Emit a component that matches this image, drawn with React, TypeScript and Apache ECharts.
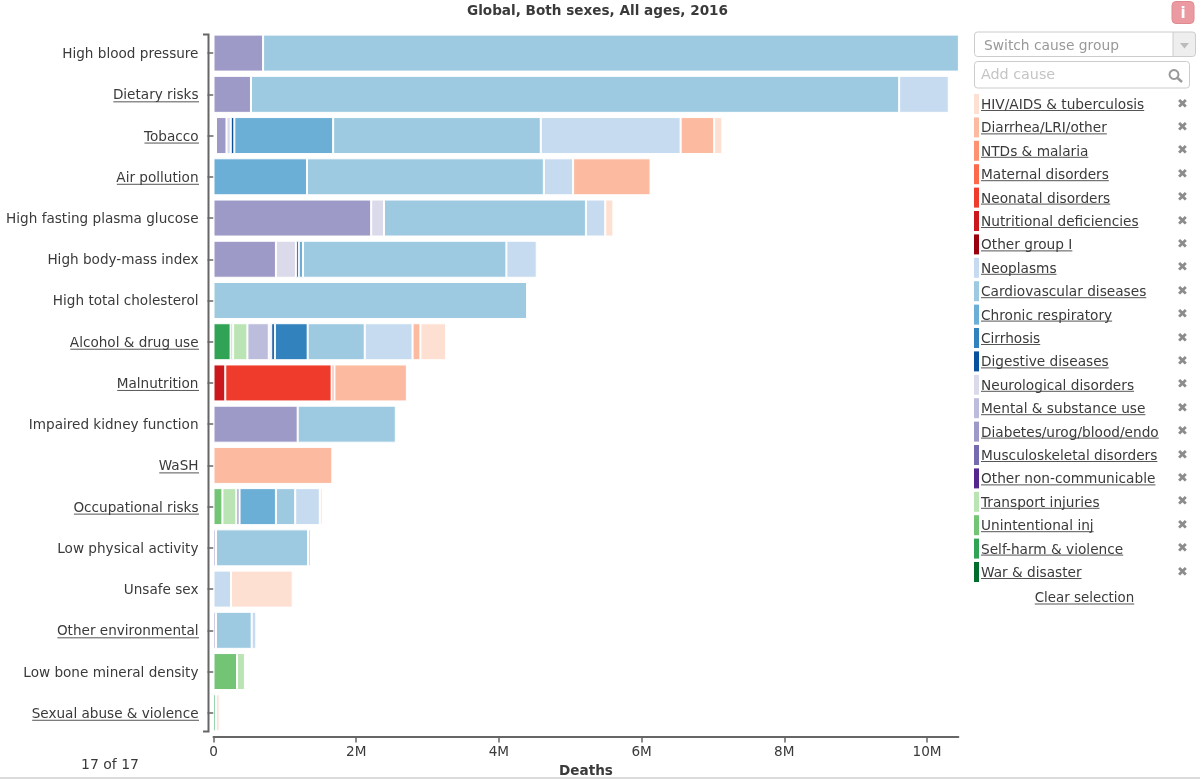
import React, { useEffect, useRef } from "react";
import * as echarts from "echarts";

const categories = [
  "High blood pressure", "Dietary risks", "Tobacco", "Air pollution", "High fasting plasma glucose",
  "High body-mass index", "High total cholesterol", "Alcohol & drug use", "Malnutrition",
  "Impaired kidney function", "WaSH", "Occupational risks", "Low physical activity", "Unsafe sex",
  "Other environmental", "Low bone mineral density", "Sexual abuse & violence",
];
const underlinedCategories = [
  "Dietary risks", "Tobacco", "Air pollution", "Alcohol & drug use", "Malnutrition", "WaSH",
  "Occupational risks", "Other environmental", "Sexual abuse & violence",
];
const _ = null;
// Values in millions of deaths; one entry per category, in category order.
const selfHarm =     [_, _, _, _, _, _, _, 0.24, _, _, _, _, _, _, _, _, 0.035];
const unintentional =[_, _, _, _, _, _, _, 0.035, _, _, _, 0.125, _, _, _, 0.33, _];
const transport =    [_, _, _, _, _, _, _, 0.2, _, _, _, 0.195, _, _, _, 0.11, _];
const diabetes =     [0.695, 0.525, 0.147, _, 2.21, 0.875, _, _, _, 1.18, _, 0.045, 0.035, _, 0.035, _, _];
const mental =       [_, _, _, _, _, _, _, 0.3, _, _, _, _, _, _, _, _, _];
const neurological = [_, _, 0.06, _, 0.18, 0.28, _, 0.035, _, _, _, _, _, _, _, _, _];
const digestive =    [_, _, 0.05, _, _, 0.04, _, 0.05, _, _, _, _, _, _, _, _, _];
const cirrhosis =    [_, _, _, _, _, _, _, 0.46, _, _, _, _, _, _, _, _, _];
const chronicResp =  [_, _, 1.385, 1.31, _, 0.06, _, _, _, _, _, 0.51, _, _, _, _, _];
const cardiovascular=[9.8, 9.085, 2.91, 3.32, 2.83, 2.85, 4.395, 0.8, _, 1.375, _, 0.27, 1.29, _, 0.5, _, _];
const neoplasms =    [_, 0.695, 1.96, 0.41, 0.27, 0.425, _, 0.67, _, _, _, 0.345, 0.04, 0.245, 0.065, _, _];
const nutritional =  [_, _, _, _, _, _, _, _, 0.165, _, _, _, _, _, _, _, _];
const neonatal =     [_, _, _, _, _, _, _, _, 1.49, _, _, _, _, _, _, _, _];
const ntdMalaria =   [_, _, _, _, _, _, _, _, 0.04, _, _, _, _, _, _, _, _];
const diarrhea =     [_, _, 0.47, 1.085, _, _, _, 0.11, 1.015, _, 1.665, _, _, _, _, _, _];
const hivTb =        [_, _, 0.115, _, 0.115, _, _, 0.36, _, _, _, 0.04, _, 0.865, _, _, 0.05];
const empty =        categories.map(() => null);
const tobaccoLead =  [_, _, 0.035, _, _, _, _, _, _, _, _, _, _, _, _, _, _];

const legendOrder = [
  "HIV/AIDS & tuberculosis", "Diarrhea/LRI/other", "NTDs & malaria", "Maternal disorders",
  "Neonatal disorders", "Nutritional deficiencies", "Other group I", "Neoplasms",
  "Cardiovascular diseases", "Chronic respiratory", "Cirrhosis", "Digestive diseases",
  "Neurological disorders", "Mental & substance use", "Diabetes/urog/blood/endo",
  "Musculoskeletal disorders", "Other non-communicable", "Transport injuries", "Unintentional inj",
  "Self-harm & violence", "War & disaster",
];
const causeColors: Record<string, string> = {
  "HIV/AIDS & tuberculosis": "#fee0d2", "Diarrhea/LRI/other": "#fcbba1", "NTDs & malaria": "#fc9272",
  "Maternal disorders": "#fb6a4a", "Neonatal disorders": "#ef3b2c", "Nutritional deficiencies": "#cb181d",
  "Other group I": "#99000d", "Neoplasms": "#c6dbef", "Cardiovascular diseases": "#9ecae1",
  "Chronic respiratory": "#6baed6", "Cirrhosis": "#3182bd", "Digestive diseases": "#08519c",
  "Neurological disorders": "#dadaeb", "Mental & substance use": "#bcbddc",
  "Diabetes/urog/blood/endo": "#9e9ac8", "Musculoskeletal disorders": "#756bb1",
  "Other non-communicable": "#54278f", "Transport injuries": "#bae4b3", "Unintentional inj": "#74c476",
  "Self-harm & violence": "#31a354", "War & disaster": "#006d2c",
};
// Left-to-right stacking order inside each bar.
const stackOrder: [string, (number | null)[]][] = [
  ["War & disaster", empty],
  ["Self-harm & violence", selfHarm],
  ["Unintentional inj", unintentional],
  ["Transport injuries", transport],
  ["Other non-communicable", empty],
  ["Musculoskeletal disorders", empty],
  ["Diabetes/urog/blood/endo", diabetes],
  ["Mental & substance use", mental],
  ["Neurological disorders", neurological],
  ["Digestive diseases", digestive],
  ["Cirrhosis", cirrhosis],
  ["Chronic respiratory", chronicResp],
  ["Cardiovascular diseases", cardiovascular],
  ["Neoplasms", neoplasms],
  ["Other group I", empty],
  ["Nutritional deficiencies", nutritional],
  ["Neonatal disorders", neonatal],
  ["Maternal disorders", empty],
  ["NTDs & malaria", ntdMalaria],
  ["Diarrhea/LRI/other", diarrhea],
  ["HIV/AIDS & tuberculosis", hivTb],
];
const xMax = 10.44;
const xInterval = 2;
const FONT = "'DejaVu Sans', Verdana, sans-serif";
const TEXT = "#3a3a3a";
const AXIS = "#666666";

function textWidth(text: string, font: string) {
  const ctx = document.createElement("canvas").getContext("2d")!;
  ctx.font = font;
  return ctx.measureText(text).width;
}
const line = (x1: number, y1: number, x2: number, y2: number, stroke: string, lineWidth = 1) => ({
  type: "line", silent: true, shape: { x1, y1, x2, y2 }, style: { stroke, lineWidth },
});
const label = (text: string, x: number, y: number, fill: string, font: string, align = "left") => ({
  type: "text", silent: true, x, y,
  style: { text, fill, font, textAlign: align, textVerticalAlign: "middle" },
});

function App() {
  const ref = useRef<HTMLDivElement>(null);
  useEffect(() => {
    const chart = echarts.init(ref.current!, undefined, { renderer: "svg" });
    const labelFont = `13.6px ${FONT}`;
    const legendFont = `13.7px ${FONT}`;
    const axisCenter = (i: number) => 53.1 + i * 41.23;
    const clearWidth = textWidth("Clear selection", `13.4px ${FONT}`);
    const graphics: any[] = [
      { type: "polyline", silent: true, shape: { points: [[203, 34.5], [208.5, 34.5], [208.5, 731.5], [203, 731.5]] }, style: { stroke: AXIS, lineWidth: 2, fill: "none" } },
      ...underlinedCategories.map((c) => {
        const y = axisCenter(categories.indexOf(c)) + 7.5;
        return line(199 - textWidth(c, labelFont), y, 199, y, "#555555");
      }),
      { type: "rect", silent: true, shape: { x: 1172, y: 1.5, width: 22, height: 22, r: 4 }, style: { fill: "#ea9aa0", stroke: "#e08a90", lineWidth: 1 } },
      label("i", 1183, 13, "#ffffff", `bold 15px ${FONT}`, "center"),
      { type: "rect", silent: true, shape: { x: 1173, y: 32, width: 22.5, height: 24.5, r: [0, 3, 3, 0] }, style: { fill: "#eeeeee" } },
      { type: "rect", silent: true, shape: { x: 974.5, y: 32, width: 221, height: 24.5, r: 3 }, style: { fill: "none", stroke: "#cccccc", lineWidth: 1 } },
      line(1173, 32, 1173, 56.5, "#cccccc"),
      { type: "polygon", silent: true, shape: { points: [[1180, 43], [1189, 43], [1184.5, 48.5]] }, style: { fill: "#bbbbbb" } },
      label("Switch cause group", 984, 45, "#999999", `13.8px ${FONT}`),
      { type: "rect", silent: true, shape: { x: 974.5, y: 61.5, width: 215, height: 26.5, r: 3 }, style: { fill: "#ffffff", stroke: "#cccccc", lineWidth: 1 } },
      label("Add cause", 981, 74, "#c4c4c4", `14.3px ${FONT}`),
      { type: "circle", silent: true, shape: { cx: 1174, cy: 74.5, r: 4.5 }, style: { fill: "none", stroke: "#999999", lineWidth: 2 } },
      line(1177.5, 78, 1182, 82, "#999999", 2.5),
      ...legendOrder.flatMap((c, i) => {
        const y = 104 + i * 23.4;
        return [
          line(981, y + 6.5, 981 + textWidth(c, legendFont), y + 6.5, "#555555"),
          label("\u2716", 1182.5, y - 1, "#8c8c8c", `13px ${FONT}`, "center"),
        ];
      }),
      label("Clear selection", 1084.5, 597, TEXT, `13.4px ${FONT}`, "center"),
      line(1084.5 - clearWidth / 2, 604, 1084.5 + clearWidth / 2, 604, "#555555"),
      label("17 of 17", 110, 764, TEXT, `14px ${FONT}`, "center"),
      line(0, 778, 1200, 778, "#cfcfcf", 1.5),
    ];
    const bars = stackOrder.map(([name, data]) => ({
      name, type: "bar", stack: "total", data, barWidth: 37,
      itemStyle: { color: causeColors[name], borderColor: "#ffffff", borderWidth: 1 },
    }));
    chart.setOption({
      animation: false,
      title: {
        text: "Global, Both sexes, All ages, 2016", left: 592.5, top: -2, textAlign: "center",
        textStyle: { fontFamily: FONT, fontSize: 13.6, fontWeight: "bold", color: "#3a3a3a" },
      },
      grid: { left: 213.5, top: 32.5, width: 744.9, height: 700.9, containLabel: false, outerBoundsMode: "none" },
      xAxis: {
        type: "value", min: 0, max: xMax, interval: xInterval, offset: 3, splitLine: { show: false },
        axisLine: { show: true, lineStyle: { color: AXIS, width: 2 } },
        axisTick: { show: true, length: 6, lineStyle: { color: AXIS, width: 1.5 } },
        axisLabel: {
          color: TEXT, fontFamily: FONT, fontSize: 13.6, margin: 8, showMaxLabel: false,
          formatter: (v: number) => (v === 0 ? "0" : `${v}M`),
        },
        name: "Deaths", nameLocation: "middle", nameGap: 24,
        nameTextStyle: { color: "#3a3a3a", fontFamily: FONT, fontSize: 13.6, fontWeight: "bold" },
      },
      yAxis: {
        type: "category", data: categories, inverse: true, offset: 5,
        axisLine: { show: false },
        axisTick: { show: true, alignWithLabel: true, length: 6, lineStyle: { color: AXIS, width: 1.5 } },
        axisLabel: { color: TEXT, fontFamily: FONT, fontSize: 13.6, margin: 10, interval: 0 },
      },
      legend: {
        orient: "vertical", left: 974, top: 94, padding: 0, data: legendOrder, selectedMode: false,
        icon: "rect", itemWidth: 5, itemHeight: 20, itemGap: 3.4,
        itemStyle: { borderWidth: 0 },
        textStyle: { color: TEXT, fontFamily: FONT, fontSize: 13.7, padding: [0, 0, 0, -3] },
      },
      graphic: { elements: graphics },
      series: [
        {
          name: "Tobacco lead", type: "bar", stack: "total", data: tobaccoLead, barWidth: 37,
          itemStyle: { color: "rgba(0,0,0,0)" }, silent: true,
        },
        ...bars,
      ],
    });
    return () => chart.dispose();
  }, []);
  return <div ref={ref} style={{ position: "fixed", left: 0, top: 0, width: 1200, height: 779 }} />;
}

export default App;
